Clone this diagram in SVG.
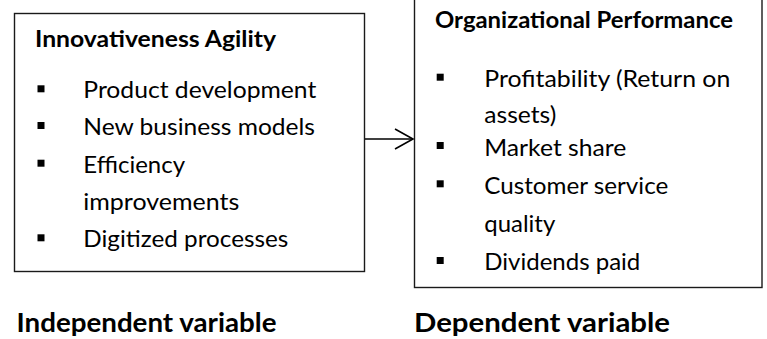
<svg xmlns="http://www.w3.org/2000/svg" width="767" height="339" viewBox="0 0 767 339">
<style>
.box{fill:#fff;stroke:#1a1a1a;stroke-width:1.4}
.t{font-family:Lato,"Open Sans","Liberation Sans",sans-serif;fill:#000}
.h{font-size:23.5px;font-weight:bold}
.b{font-size:24px}
.lab{font-size:26px;font-weight:bold}
.bul{fill:#000}
.con{fill:none;stroke:#000;stroke-width:1.6}
</style>
<rect width="767" height="339" fill="#fff"/>
<g id="independent">
<rect class="box" x="14.5" y="13.5" width="350" height="258"/>
<text class="t h" x="35" y="47" textLength="241" lengthAdjust="spacingAndGlyphs">Innovativeness Agility</text>
<rect class="bul" x="37.5" y="85.3" width="7" height="7"/>
<text class="t b" x="83.3" y="98.3" textLength="233" lengthAdjust="spacingAndGlyphs">Product development</text>
<rect class="bul" x="37.5" y="122" width="7" height="7"/>
<text class="t b" x="83.3" y="135" textLength="231.7" lengthAdjust="spacingAndGlyphs">New business models</text>
<rect class="bul" x="37.5" y="159.7" width="7" height="7"/>
<text class="t b" x="83.3" y="172.7" textLength="101.7" lengthAdjust="spacingAndGlyphs">Efficiency</text>
<text class="t b" x="83.3" y="210" textLength="156" lengthAdjust="spacingAndGlyphs">improvements</text>
<rect class="bul" x="37.5" y="234.3" width="7" height="7"/>
<text class="t b" x="83.3" y="247.3" textLength="205" lengthAdjust="spacingAndGlyphs">Digitized processes</text>
</g>
<g id="dependent">
<rect class="box" x="414.5" y="-3" width="347.5" height="290.5"/>
<text class="t h" x="435" y="28" textLength="298" lengthAdjust="spacingAndGlyphs">Organizational Performance</text>
<rect class="bul" x="436.7" y="73.7" width="7" height="7"/>
<text class="t b" x="484.3" y="86.7" textLength="246" lengthAdjust="spacingAndGlyphs">Profitability (Return on</text>
<text class="t b" x="484.3" y="123" textLength="72" lengthAdjust="spacingAndGlyphs">assets)</text>
<rect class="bul" x="436.7" y="142" width="7" height="7"/>
<text class="t b" x="484.3" y="155.5" textLength="142" lengthAdjust="spacingAndGlyphs">Market share</text>
<rect class="bul" x="436.7" y="180.3" width="7" height="7"/>
<text class="t b" x="484.3" y="193.5" textLength="184" lengthAdjust="spacingAndGlyphs">Customer service</text>
<text class="t b" x="484.3" y="231.7" textLength="71" lengthAdjust="spacingAndGlyphs">quality</text>
<rect class="bul" x="436.7" y="257" width="7" height="7"/>
<text class="t b" x="484.3" y="270" textLength="156" lengthAdjust="spacingAndGlyphs">Dividends paid</text>
</g>
<g id="connectors">
<line class="con" x1="365" y1="139" x2="413" y2="139"/>
<polyline class="con" points="395,129 413,139 395,149" stroke-width="2"/>
</g>
<g id="labels">
<text class="t lab" x="16.5" y="331.5" textLength="260" lengthAdjust="spacingAndGlyphs">Independent variable</text>
<text class="t lab" x="414" y="331.5" textLength="256" lengthAdjust="spacingAndGlyphs">Dependent variable</text>
</g>
</svg>
